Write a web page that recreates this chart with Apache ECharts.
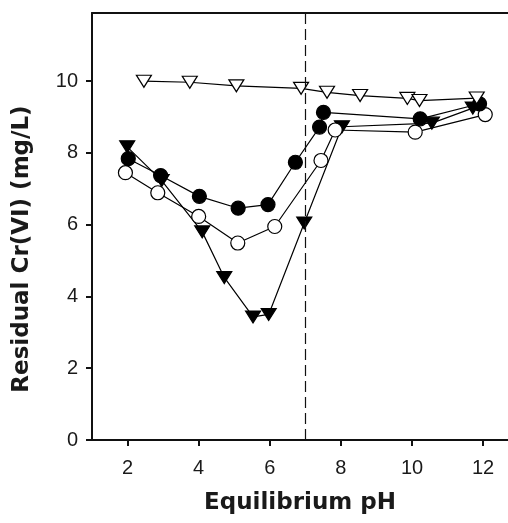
<!DOCTYPE html>
<html>
<head>
<meta charset="utf-8">
<script src="https://cdn.jsdelivr.net/npm/echarts@6/dist/echarts.min.js"></script>
<style>
  html, body { margin: 0; padding: 0; background: #fff; }
  #chart { width: 508px; height: 523px; }
</style>
</head>
<body>
<div id="chart"></div>
<script>
// Residual Cr(VI) versus equilibrium pH, four sample series
const xTicks = [2, 4, 6, 8, 10, 12];
const yTicks = [0, 2, 4, 6, 8, 10];

const openTriPH  = [2.46, 3.75, 5.06, 6.88, 7.61, 8.54, 9.87, 10.21, 11.82];
const openTriVal = [10.0, 9.97, 9.87, 9.80, 9.69, 9.60, 9.52, 9.46, 9.53];

const filledCircPH  = [2.02, 2.93, 4.02, 5.11, 5.95, 6.72, 7.40, 7.51, 10.23, 11.90];
const filledCircVal = [7.84, 7.37, 6.79, 6.46, 6.56, 7.74, 8.72, 9.13, 8.95, 9.37];

const openCircPH  = [1.94, 2.85, 4.00, 5.10, 6.14, 7.44, 7.84, 10.09, 12.06];
const openCircVal = [7.45, 6.89, 6.23, 5.49, 5.95, 7.79, 8.64, 8.58, 9.07];

const filledTriPH  = [1.99, 2.96, 4.10, 4.72, 5.53, 5.97, 6.97, 8.03, 10.56, 11.71];
const filledTriVal = [8.17, 7.23, 5.80, 4.53, 3.43, 3.50, 6.05, 8.73, 8.83, 9.25];

const neutralPH = 7;

const pairs = (xs, ys) => xs.map((x, i) => [x, ys[i]]);

const tickFont = { fontFamily: "'Liberation Sans', Arial, sans-serif", fontSize: 20, color: '#1a1a1a' };
const titleFont = { fontFamily: "'DejaVu Sans', sans-serif", fontWeight: 'bold', fontSize: 23, color: '#1a1a1a' };

function lineSeries(name, data, symbol, filled, size, extra) {
  return Object.assign({
    name: name,
    type: 'line',
    data: data,
    symbol: symbol,
    symbolSize: size,
    symbolRotate: symbol === 'triangle' ? 180 : 0,
    showAllSymbol: true,
    lineStyle: { color: '#000', width: 1.2 },
    itemStyle: { color: filled ? '#000' : '#fff', borderColor: '#000', borderWidth: 1.2 },
    emphasis: { disabled: true }
  }, extra || {});
}

const chart = echarts.init(document.getElementById('chart'), null, { renderer: 'canvas' });
chart.setOption({
  animation: false,
  grid: { left: 92, right: 0, top: 13, bottom: 83 },
  xAxis: [{
    type: 'value', min: 1, max: 12.7,
    name: 'Equilibrium pH', nameLocation: 'middle', nameGap: 52,
    nameTextStyle: titleFont,
    axisLine: { lineStyle: { color: '#111', width: 2 } },
    axisTick: { length: 6, customValues: xTicks, lineStyle: { color: '#111', width: 2 } },
    axisLabel: Object.assign({ margin: 18, customValues: xTicks }, tickFont),
    splitLine: { show: false }
  }, {
    type: 'value', min: 1, max: 12.7, position: 'top',
    axisLine: { show: true, onZero: false, lineStyle: { color: '#111', width: 2 } },
    axisTick: { show: false }, axisLabel: { show: false }, splitLine: { show: false }
  }],
  yAxis: {
    type: 'value', min: 0, max: 11.9,
    axisLine: { show: true, lineStyle: { color: '#111', width: 2 } },
    axisTick: { show: true, length: 6, customValues: yTicks, lineStyle: { color: '#111', width: 2 } },
    axisLabel: Object.assign({ margin: 14, customValues: yTicks }, tickFont),
    splitLine: { show: false }
  },
  graphic: [{
    type: 'text',
    x: 22, y: 249,
    rotation: Math.PI / 2,
    style: {
      text: 'Residual Cr(VI) (mg/L)',
      align: 'center', verticalAlign: 'middle',
      fill: '#1a1a1a',
      font: "bold 23px 'DejaVu Sans', sans-serif"
    }
  }],
  series: [
    lineSeries('filled triangles', pairs(filledTriPH, filledTriVal), 'triangle', true, [15, 12], {
      markLine: {
        silent: true, symbol: 'none', label: { show: false },
        lineStyle: { color: '#111', width: 1.2, type: [11, 5] },
        data: [{ xAxis: neutralPH }]
      }
    }),
    lineSeries('open circles', pairs(openCircPH, openCircVal), 'circle', false, 14),
    lineSeries('filled circles', pairs(filledCircPH, filledCircVal), 'circle', true, 14),
    lineSeries('open triangles', pairs(openTriPH, openTriVal), 'triangle', false, [15, 12])
  ]
});
</script>
</body>
</html>
